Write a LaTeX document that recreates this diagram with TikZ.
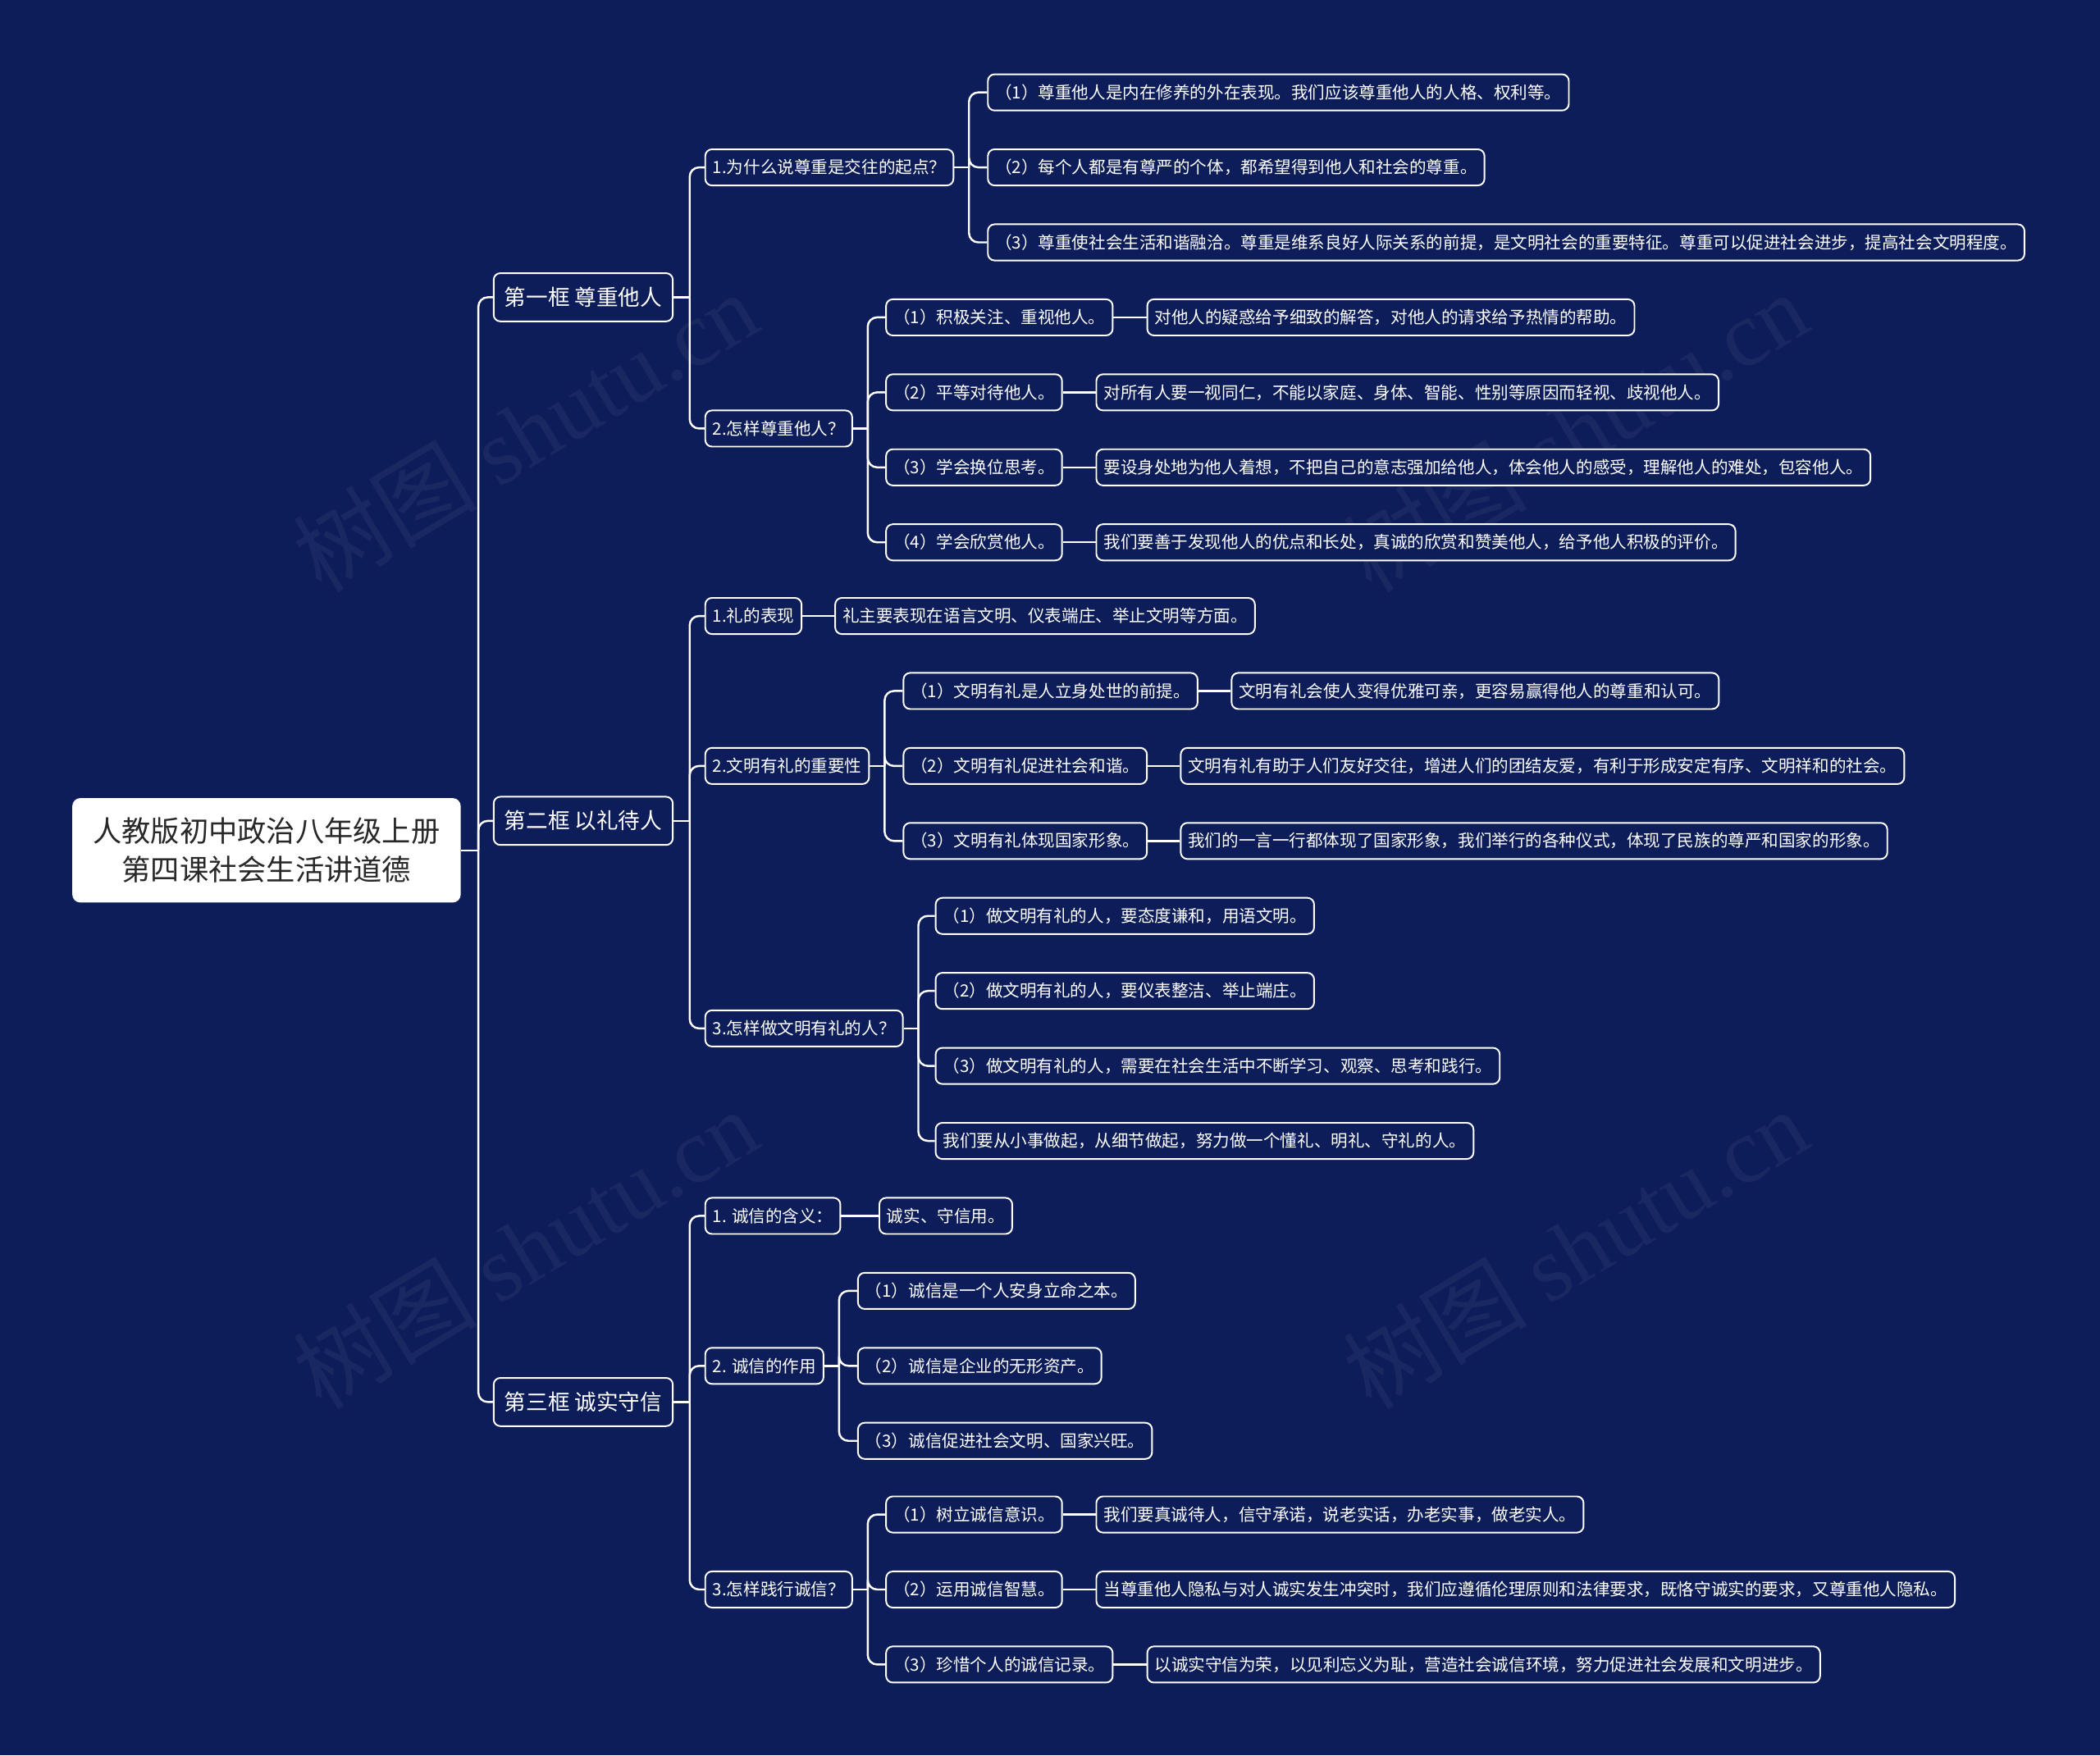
\documentclass[tikz,border=0pt]{standalone}
\usepackage{fontspec}
\setmainfont{Noto Sans CJK SC}
\newfontfamily\wmfont{Liberation Serif}
\definecolor{bg}{RGB}{13,29,89}
\definecolor{roottext}{RGB}{40,40,40}
\tikzset{
  box/.style={draw=white, line width=1.2pt, rounded corners=5pt, fill=bg, text=white,
    font=\fontsize{12.6pt}{15pt}\selectfont, inner xsep=5.5pt, inner ysep=0pt,
    minimum height=27pt, text height=11pt, text depth=1.6pt, anchor=west},
  lone/.style={draw=white, line width=1.2pt, rounded corners=5pt, fill=bg, text=white,
    font=\fontsize{16.3pt}{19pt}\selectfont, inner xsep=8pt, inner ysep=0pt,
    minimum height=36pt, text height=14.2pt, text depth=2pt, anchor=west},
  rootbox/.style={fill=white, rounded corners=6pt, text=roottext,
    font=\fontsize{21.6pt}{29pt}\selectfont, align=center, minimum width=290pt,
    minimum height=78pt, inner sep=0pt},
  conn/.style={draw=white, line width=1.5pt},
  wm/.style={text=white, opacity=0.05, rotate=31, font=\fontsize{69pt}{74pt}\selectfont}
}
\newcommand{\branch}[3]{%
  \draw[conn] (#1.east) -- ++(#2,0) coordinate (jn);
  \foreach \ch in {#3} {\draw[conn,rounded corners=7pt] (jn) |- (\ch.west);}
}
\newcommand{\straight}[2]{\draw[conn] (#1.east) -- (#2.west);}
\begin{document}
\begin{tikzpicture}[x=1pt,y=-1pt]
\fill[bg] (0,0) rectangle (1568,1311);
\useasboundingbox (0,0) rectangle (1568,1311);
% watermarks
\node[wm] (wm1) at (392,322) {树图 {\wmfont shutu.cn}};
\node[wm] (wm2) at (1176,322) {树图 {\wmfont shutu.cn}};
\node[wm] (wm3) at (392,932) {树图 {\wmfont shutu.cn}};
\node[wm] (wm4) at (1176,932) {树图 {\wmfont shutu.cn}};
% root
\node[rootbox] (root) at (199,635) {人教版初中政治八年级上册\\第四课社会生活讲道德};
% level 1
\node[lone] (A) at (368,222) {第一框 尊重他人};
\node[lone] (B) at (368,613) {第二框 以礼待人};
\node[lone] (C) at (368,1047) {第三框 诚实守信};
% level 2
\node[box] (A1) at (526,125) {1.为什么说尊重是交往的起点？};
\node[box] (A2) at (526,320) {2.怎样尊重他人？};
\node[box] (B1) at (526,460) {1.礼的表现};
\node[box] (B2) at (526,572) {2.文明有礼的重要性};
\node[box] (B3) at (526,768) {3.怎样做文明有礼的人？};
\node[box] (C1) at (526,908) {1. 诚信的含义：};
\node[box] (C2) at (526,1020) {2. 诚信的作用};
\node[box] (C3) at (526,1187) {3.怎样践行诚信？};
% A1 children
\node[box] (A11) at (737,69) {（1）尊重他人是内在修养的外在表现。我们应该尊重他人的人格、权利等。};
\node[box] (A12) at (737,125) {（2）每个人都是有尊严的个体，都希望得到他人和社会的尊重。};
\node[box] (A13) at (737,181) {（3）尊重使社会生活和谐融洽。尊重是维系良好人际关系的前提，是文明社会的重要特征。尊重可以促进社会进步，提高社会文明程度。};
% A2 children
\node[box] (A21) at (661,237) {（1）积极关注、重视他人。};
\node[box] (A22) at (661,293) {（2）平等对待他人。};
\node[box] (A23) at (661,349) {（3）学会换位思考。};
\node[box] (A24) at (661,405) {（4）学会欣赏他人。};
\node[box] (A21L) at (856,237) {对他人的疑惑给予细致的解答，对他人的请求给予热情的帮助。};
\node[box] (A22L) at (818,293) {对所有人要一视同仁，不能以家庭、身体、智能、性别等原因而轻视、歧视他人。};
\node[box] (A23L) at (818,349) {要设身处地为他人着想，不把自己的意志强加给他人，体会他人的感受，理解他人的难处，包容他人。};
\node[box] (A24L) at (818,405) {我们要善于发现他人的优点和长处，真诚的欣赏和赞美他人，给予他人积极的评价。};
% B1
\node[box] (B1L) at (623,460) {礼主要表现在语言文明、仪表端庄、举止文明等方面。};
% B2 children
\node[box] (B21) at (674,516) {（1）文明有礼是人立身处世的前提。};
\node[box] (B22) at (674,572) {（2）文明有礼促进社会和谐。};
\node[box] (B23) at (674,628) {（3）文明有礼体现国家形象。};
\node[box] (B21L) at (919,516) {文明有礼会使人变得优雅可亲，更容易赢得他人的尊重和认可。};
\node[box] (B22L) at (881,572) {文明有礼有助于人们友好交往，增进人们的团结友爱，有利于形成安定有序、文明祥和的社会。};
\node[box] (B23L) at (881,628) {我们的一言一行都体现了国家形象，我们举行的各种仪式，体现了民族的尊严和国家的形象。};
% B3 children
\node[box] (B31) at (698,684) {（1）做文明有礼的人，要态度谦和，用语文明。};
\node[box] (B32) at (698,740) {（2）做文明有礼的人，要仪表整洁、举止端庄。};
\node[box] (B33) at (698,796) {（3）做文明有礼的人，需要在社会生活中不断学习、观察、思考和践行。};
\node[box] (B34) at (698,852) {我们要从小事做起，从细节做起，努力做一个懂礼、明礼、守礼的人。};
% C1
\node[box] (C1L) at (656,908) {诚实、守信用。};
% C2 children
\node[box] (C21) at (640,964) {（1）诚信是一个人安身立命之本。};
\node[box] (C22) at (640,1020) {（2）诚信是企业的无形资产。};
\node[box] (C23) at (640,1076) {（3）诚信促进社会文明、国家兴旺。};
% C3 children
\node[box] (C31) at (661,1131) {（1）树立诚信意识。};
\node[box] (C32) at (661,1187) {（2）运用诚信智慧。};
\node[box] (C33) at (661,1243) {（3）珍惜个人的诚信记录。};
\node[box] (C31L) at (818,1131) {我们要真诚待人，信守承诺，说老实话，办老实事，做老实人。};
\node[box] (C32L) at (818,1187) {当尊重他人隐私与对人诚实发生冲突时，我们应遵循伦理原则和法律要求，既恪守诚实的要求，又尊重他人隐私。};
\node[box] (C33L) at (856,1243) {以诚实守信为荣，以见利忘义为耻，营造社会诚信环境，努力促进社会发展和文明进步。};
% connectors
\branch{root}{13}{A,B,C}
\branch{A}{12}{A1,A2}
\branch{B}{12}{B1,B2,B3}
\branch{C}{12}{C1,C2,C3}
\branch{A1}{11}{A11,A12,A13}
\branch{A2}{11}{A21,A22,A23,A24}
\branch{B2}{11}{B21,B22,B23}
\branch{B3}{11}{B31,B32,B33,B34}
\branch{C2}{11}{C21,C22,C23}
\branch{C3}{11}{C31,C32,C33}
\straight{B1}{B1L}
\straight{C1}{C1L}
\straight{A21}{A21L}
\straight{A22}{A22L}
\straight{A23}{A23L}
\straight{A24}{A24L}
\straight{B21}{B21L}
\straight{B22}{B22L}
\straight{B23}{B23L}
\straight{C31}{C31L}
\straight{C32}{C32L}
\straight{C33}{C33L}
\end{tikzpicture}
\end{document}
